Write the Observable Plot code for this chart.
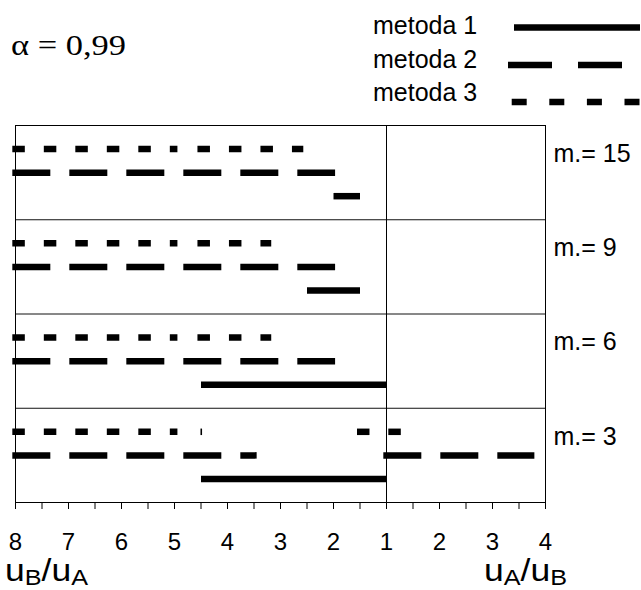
<!DOCTYPE html>
<html>
<head>
<meta charset="utf-8">
<script src="https://cdn.jsdelivr.net/npm/d3@7"></script>
<script src="https://cdn.jsdelivr.net/npm/@observablehq/plot@0.6"></script>
<style>
  html, body { margin: 0; padding: 0; background: #fff; }
  #page { position: relative; width: 641px; height: 590px; overflow: hidden; }
  #chart { position: absolute; left: 0; top: 120px; }
  #deco { position: absolute; left: 0; top: 0; pointer-events: none; }
  text { font-family: "Liberation Sans", Arial, sans-serif; }
</style>
</head>
<body>
<div id="page">
  <div id="chart"></div>
  <svg id="deco" width="641" height="590" xmlns="http://www.w3.org/2000/svg">
    <text x="11" y="55" textLength="115" lengthAdjust="spacingAndGlyphs" style="font-family:'Liberation Serif','Times New Roman',serif;font-size:30px" fill="#000">α = 0,99</text>
    <text x="373" y="33.5" font-size="25" fill="#000">metoda 1</text>
    <text x="373" y="67.5" font-size="25" fill="#000">metoda 2</text>
    <text x="373" y="100.5" font-size="25" fill="#000">metoda 3</text>
    <line x1="514" x2="640" y1="27.5" y2="27.5" stroke="#000" stroke-width="6.5"/>
    <line x1="508" x2="623" y1="65" y2="65" stroke="#000" stroke-width="6.5" stroke-dasharray="44,26"/>
    <line x1="511.7" x2="640" y1="102" y2="102" stroke="#000" stroke-width="6.5" stroke-dasharray="15,22.6"/>
    <text x="5" y="581" font-size="31" textLength="83" lengthAdjust="spacingAndGlyphs" fill="#000">u<tspan font-size="22" dy="4">B</tspan><tspan dy="-4">/u</tspan><tspan font-size="22" dy="4">A</tspan></text>
    <text x="484" y="581" font-size="31" textLength="83" lengthAdjust="spacingAndGlyphs" fill="#000">u<tspan font-size="22" dy="4">A</tspan><tspan dy="-4">/u</tspan><tspan font-size="22" dy="4">B</tspan></text>
  </svg>
</div>
<script>
// ---- data ----
// panel labels (m.), top to bottom
const panels = ["15", "9", "6", "3"];
// segment ends: ["BA", r] means u_B/u_A = r (left half), ["AB", r] means u_A/u_B = r (right half)
const metoda1 = [
  { m: "15", from: ["BA", 2.0], to: ["BA", 1.5] },
  { m: "9",  from: ["BA", 2.5], to: ["BA", 1.5] },
  { m: "6",  from: ["BA", 4.5], to: ["BA", 1.0] },
  { m: "3",  from: ["BA", 4.5], to: ["BA", 1.0] }
];
const metoda2 = [
  { m: "15", from: ["BA", 8.06], to: ["BA", 1.97] },
  { m: "9",  from: ["BA", 8.06], to: ["BA", 1.97] },
  { m: "6",  from: ["BA", 8.06], to: ["BA", 1.97] },
  { m: "3",  from: ["BA", 8.06], to: ["BA", 3.45] },
  { m: "3",  from: ["BA", 1.06], to: ["AB", 3.79] }
];
const metoda3 = [
  { m: "15", from: ["BA", 8.06], to: ["BA", 4.945] },
  { m: "15", from: ["BA", 4.567], to: ["BA", 2.57] },
  { m: "9",  from: ["BA", 8.06], to: ["BA", 4.945] },
  { m: "9",  from: ["BA", 4.567], to: ["BA", 3.175] },
  { m: "6",  from: ["BA", 8.06], to: ["BA", 4.945] },
  { m: "6",  from: ["BA", 4.567], to: ["BA", 3.175] },
  { m: "3",  from: ["BA", 8.06], to: ["BA", 4.945] },
  { m: "3",  from: ["BA", 4.51], to: ["BA", 4.48] },
  { m: "3",  from: ["BA", 1.557], to: ["BA", 1.0] },
  { m: "3",  from: ["AB", 1.034], to: ["AB", 1.274] }
];
// axis tick labels, left (u_B/u_A = 8) to right (u_A/u_B = 4)
const tickLabels = ["8", "7", "6", "5", "4", "3", "2", "1", "2", "3", "4"];

// ---- build ----
const pos = ([side, r]) => side === "BA" ? 1 - r : r - 1;
const rowOf = { metoda1: 3, metoda2: 2, metoda3: 1 };
function toPoints(segs, name) {
  const pts = [];
  segs.forEach((s, i) => {
    const y = panels.indexOf(s.m) * 4 + rowOf[name];
    pts.push({ x: pos(s.from), y, seg: name + i });
    pts.push({ x: pos(s.to), y, seg: name + i });
  });
  return pts;
}
const d1 = toPoints(metoda1, "metoda1");
const d2 = toPoints(metoda2, "metoda2");
const d3pts = toPoints(metoda3, "metoda3");

const xMin = 1 - (+tickLabels[0]);
const xMax = (+tickLabels[tickLabels.length - 1]) - 1;
const majorTicks = d3.range(xMin, xMax + 0.001, 1);
const allTicks = d3.range(xMin, xMax + 0.001, 0.5);

const chart = Plot.plot({
  width: 641,
  height: 440,
  marginLeft: 15,
  marginRight: 96,
  marginTop: 5,
  marginBottom: 58,
  style: { fontFamily: "'Liberation Sans', Arial, sans-serif", background: "#fff", color: "#000" },
  x: { domain: [xMin, xMax], label: null },
  y: { domain: [0, panels.length * 4], reverse: true, axis: null },
  marks: [
    Plot.ruleY(d3.range(1, panels.length).map(i => i * 4), { stroke: "#111", strokeWidth: 1 }),
    Plot.ruleX([0], { stroke: "#000", strokeWidth: 1 }),
    Plot.frame({ stroke: "#000", strokeWidth: 1 }),
    Plot.line(d1, { x: "x", y: "y", z: "seg", stroke: "#000", strokeWidth: 6.5, strokeLinecap: "butt" }),
    Plot.line(d2, { x: "x", y: "y", z: "seg", stroke: "#000", strokeWidth: 6.5, strokeLinecap: "butt", strokeDasharray: "38,19" }),
    Plot.line(d3pts, { x: "x", y: "y", z: "seg", stroke: "#000", strokeWidth: 6.5, strokeLinecap: "butt", strokeDasharray: "12.5,19" }),
    Plot.text(panels, {
      frameAnchor: "right",
      y: (d, i) => i * 4 + 1.2,
      text: d => "m.= " + d,
      textAnchor: "start",
      dx: 8,
      fontSize: 25,
      fill: "#000"
    }),
    Plot.axisX({
      ticks: allTicks,
      tickSize: 7,
      tickPadding: 23,
      fontSize: 24,
      label: null,
      tickFormat: v => {
        const k = majorTicks.findIndex(t => Math.abs(t - v) < 1e-9);
        return k >= 0 ? tickLabels[k] : "";
      }
    })
  ]
});
document.getElementById("chart").appendChild(chart);
</script>
</body>
</html>
